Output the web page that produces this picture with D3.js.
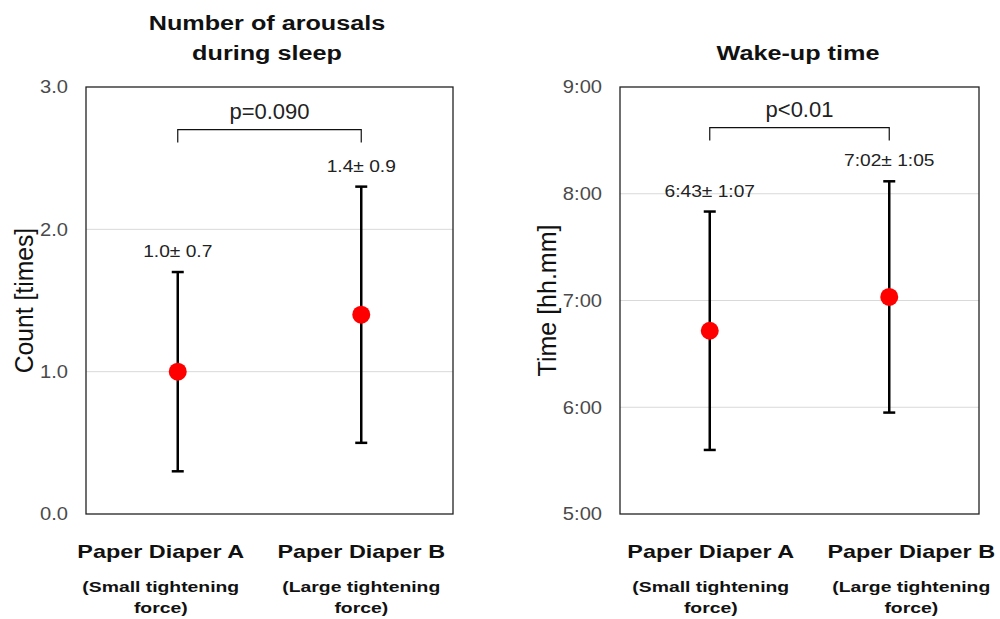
<!DOCTYPE html>
<html>
<head>
<meta charset="utf-8">
<script src="https://cdn.jsdelivr.net/npm/d3@7"></script>
<style>
  body { margin: 0; background: #fff; }
  svg { font-family: "Liberation Sans", Arial, sans-serif; }
</style>
</head>
<body>
<svg id="chart" width="1000" height="619"></svg>
<script>
// data
var categories = ["Paper Diaper A", "Paper Diaper B"];
var subLabels = [["(Small tightening", "force)"], ["(Large tightening", "force)"]];

var arousalMean = [1.0, 1.4];
var arousalSD = [0.7, 0.9];
var arousalTicks = [0, 1, 2, 3];
var arousalP = "p=0.090";

// wake-up time in hours
var wakeMean = [6 + 43/60, 7 + 2/60];
var wakeSD = [1 + 7/60, 1 + 5/60];
var wakeTicks = [5, 6, 7, 8, 9];
var wakeP = "p<0.01";

var svg = d3.select("#chart");

function stretched(g, txt, x, y, size, weight, sx, anchor) {
  return g.append("text")
    .attr("transform", "translate(" + x + "," + y + ") scale(" + sx + ",1)")
    .attr("text-anchor", anchor || "middle")
    .style("font-size", size + "px")
    .style("font-weight", weight)
    .attr("fill", "#111")
    .text(txt);
}

function hm(v) {
  var h = Math.floor(v + 1e-9), m = Math.round((v - h) * 60);
  return h + ":" + d3.format("02")(m);
}

function drawChart(cfg) {
  var g = svg.append("g");
  var x = d3.scalePoint().domain(categories).range([cfg.left, cfg.right]).padding(0.5);
  var y = d3.scaleLinear().domain(cfg.domain).range([cfg.bottom, cfg.top]);

  // grid
  g.selectAll(".grid").data(cfg.ticks.slice(1, -1)).enter().append("line")
    .attr("x1", cfg.left).attr("x2", cfg.right)
    .attr("y1", function(d) { return y(d); }).attr("y2", function(d) { return y(d); })
    .attr("stroke", "#d9d9d9").attr("stroke-width", 1);

  // frame
  g.append("rect")
    .attr("x", cfg.left).attr("y", cfg.top)
    .attr("width", cfg.right - cfg.left).attr("height", cfg.bottom - cfg.top)
    .attr("fill", "none").attr("stroke", "#222").attr("stroke-width", 1.3);

  // y axis labels
  var ax = g.append("g").attr("transform", "translate(" + cfg.left + ",0)")
    .call(d3.axisLeft(y).tickValues(cfg.ticks).tickSize(0).tickPadding(16).tickFormat(cfg.tickFmt));
  ax.select(".domain").remove();
  ax.selectAll("text")
    .attr("transform", "scale(1.12,1)")
    .style("font-family", "Liberation Sans, Arial, sans-serif")
    .style("font-size", "18px")
    .attr("fill", "#4a4a4a");

  // axis title
  g.append("text")
    .attr("transform", "translate(" + cfg.yTitleX + "," + ((cfg.top + cfg.bottom) / 2) + ") rotate(-90) scale(" + cfg.yTitleSx + ",1)")
    .attr("text-anchor", "middle")
    .style("font-size", cfg.yTitleSize + "px")
    .attr("fill", "#111")
    .text(cfg.yTitle);

  // chart title
  cfg.title.forEach(function(t, i) {
    stretched(g, t, cfg.titleX, cfg.titleY + i * 30, 21, "bold", 1.2);
  });

  // error bars
  var capW = 6;
  var bars = g.selectAll(".err").data(categories).enter().append("g");
  bars.append("line")
    .attr("x1", function(d) { return x(d); }).attr("x2", function(d) { return x(d); })
    .attr("y1", function(d, i) { return y(cfg.mean[i] + cfg.sd[i]); })
    .attr("y2", function(d, i) { return y(cfg.mean[i] - cfg.sd[i]); })
    .attr("stroke", "#000").attr("stroke-width", 2.5);
  [1, -1].forEach(function(s) {
    bars.append("line")
      .attr("x1", function(d) { return x(d) - capW; }).attr("x2", function(d) { return x(d) + capW; })
      .attr("y1", function(d, i) { return y(cfg.mean[i] + s * cfg.sd[i]); })
      .attr("y2", function(d, i) { return y(cfg.mean[i] + s * cfg.sd[i]); })
      .attr("stroke", "#000").attr("stroke-width", 2.5);
  });
  bars.append("circle")
    .attr("cx", function(d) { return x(d); })
    .attr("cy", function(d, i) { return y(cfg.mean[i]); })
    .attr("r", 9)
    .attr("fill", "#ff0000");
  bars.each(function(d, i) {
    stretched(d3.select(this), cfg.valFmt(cfg.mean[i]) + "\u00b1 " + cfg.valFmt(cfg.sd[i]),
      x(d), y(cfg.mean[i] + cfg.sd[i]) - 15, 17, "normal", 1.13).attr("fill", "#222");
  });

  // significance bracket
  var xa = x(categories[0]), xb = x(categories[1]);
  g.append("path")
    .attr("d", "M" + xa + "," + y(cfg.bracket[1]) + "V" + y(cfg.bracket[0]) + "H" + xb + "V" + y(cfg.bracket[1]))
    .attr("fill", "none").attr("stroke", "#111").attr("stroke-width", 1.2);
  stretched(g, cfg.p, (xa + xb) / 2, y(cfg.bracket[0]) - 11, 22, "normal", 1.0).attr("fill", "#222");

  // category labels
  categories.forEach(function(c, i) {
    var cx = x(c) + cfg.labelShift[i];
    stretched(g, c, cx, cfg.bottom + 44, 18, "bold", 1.3);
    stretched(g, subLabels[i][0], cx, cfg.bottom + 78, 15, "bold", 1.29);
    stretched(g, subLabels[i][1], cx, cfg.bottom + 99, 15, "bold", 1.29);
  });
}

drawChart({
  left: 86, right: 453, top: 87, bottom: 514,
  domain: [0, 3], ticks: arousalTicks, tickFmt: d3.format(".1f"),
  mean: arousalMean, sd: arousalSD, valFmt: d3.format(".1f"),
  bracket: [2.7, 2.61], p: arousalP,
  title: ["Number of arousals", "during sleep"], titleX: 267, titleY: 30,
  yTitle: "Count [times]", yTitleX: 33, yTitleSize: 26, yTitleSx: 0.95,
  labelShift: [-17, 0]
});

drawChart({
  left: 620, right: 979, top: 87, bottom: 514,
  domain: [5, 9], ticks: wakeTicks, tickFmt: hm,
  mean: wakeMean, sd: wakeSD, valFmt: hm,
  bracket: [8.62, 8.5], p: wakeP,
  title: ["Wake-up time"], titleX: 798, titleY: 60,
  yTitle: "Time [hh.mm]", yTitleX: 556, yTitleSize: 25, yTitleSx: 1.0,
  labelShift: [1, 22]
});
</script>
</body>
</html>
